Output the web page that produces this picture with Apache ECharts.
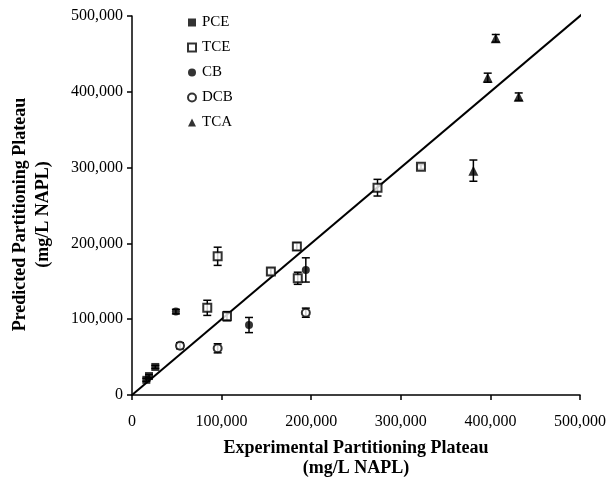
<!DOCTYPE html>
<html><head><meta charset="utf-8">
<script src="https://cdn.jsdelivr.net/npm/echarts@6/dist/echarts.min.js"></script>
<style>html,body{margin:0;padding:0;background:#fff}#c{width:612px;height:479px}</style>
</head><body><div id="c"></div>
<script>
// [experimental, predicted, errorHalfWidth]
const PCE = [[16000,20000,2000],[19000,25000,2000],[26000,37000,2000]];
const TCE = [[95600,183000,12000],[84000,115000,10000],[106000,104000,6000],[155000,163000,4000],[184000,196000,5000],[185000,154000,8000],[274000,273500,11000],[322500,301000,3000]];
const CB = [[49000,110000,3000],[130600,92300,10000],[194000,165000,16000]];
const DCB = [[53600,65000,4000],[95600,61600,6000],[194000,108600,6000]];
const TCA = [[406000,470600,5000],[397000,418600,6000],[431600,393500,5000],[381000,296000,14000]];
const LINE = [[0,0],[505000,505000]];
const TICKS = [0,100000,200000,300000,400000,500000];

const serif = '"Liberation Serif","Times New Roman",serif';
function fmt(v){return v.toString().replace(/\B(?=(\d{3})+(?!\d))/g, ',');}

const groups = [
  {name:'PCE', data:PCE, symbol:'rect', size:8},
  {name:'TCE', data:TCE, symbol:'emptyRect', size:8},
  {name:'CB', data:CB, symbol:'circle', size:8},
  {name:'DCB', data:DCB, symbol:'emptyCircle', size:8},
  {name:'TCA', data:TCA, symbol:'triangle', size:10}
];

const series = [];
series.push({type:'line', data:LINE, showSymbol:false, symbol:'none', clip:false,
  lineStyle:{color:'#000', width:2}, silent:true, z:1});
groups.forEach(g=>{
  series.push({
    type:'custom', z:2, silent:true,
    data: g.data.map(d=>[d[0], d[1]-d[2], d[1]+d[2]]),
    renderItem:function(params, api){
      const lo = api.coord([api.value(0), api.value(1)]);
      const hi = api.coord([api.value(0), api.value(2)]);
      const w = 4;
      const st = {stroke:'#000', lineWidth:1.5};
      return {type:'group', children:[
        {type:'line', shape:{x1:lo[0],y1:lo[1],x2:hi[0],y2:hi[1]}, style:st},
        {type:'line', shape:{x1:lo[0]-w,y1:lo[1],x2:lo[0]+w,y2:lo[1]}, style:st},
        {type:'line', shape:{x1:hi[0]-w,y1:hi[1],x2:hi[0]+w,y2:hi[1]}, style:st}
      ]};
    }
  });
  const hollow = g.symbol.indexOf('empty')===0;
  series.push({
    type:'scatter', name:g.name, z:3,
    data:g.data.map(d=>[d[0],d[1]]),
    symbol:g.symbol, symbolSize:g.size,
    itemStyle:{color:'#000', borderColor:'#000', borderWidth: hollow ? 1.2 : 0}
  });
});

const chart = echarts.init(document.getElementById('c'), null, {renderer:'canvas'});
chart.setOption({
  animation:false,
  backgroundColor:'#fff',
  textStyle:{fontFamily:serif, color:'#000'},
  grid:{left:132, right:32, top:16, bottom:84, containLabel:false, outerBoundsMode:'none'},
  legend:{
    orient:'vertical', left:182, top:10,
    data:groups.map(g=>g.name),
    itemWidth:8, itemHeight:8, itemGap:10,
    textStyle:{fontFamily:serif, fontSize:15, color:'#000', lineHeight:15, padding:[0,0,0,1]}
  },
  xAxis:{
    type:'value', min:TICKS[0], max:TICKS[TICKS.length-1], interval:100000,
    name:'Experimental Partitioning Plateau\n(mg/L NAPL)', nameLocation:'middle', nameGap:43,
    nameTextStyle:{fontFamily:serif, fontSize:18, fontWeight:'bold', color:'#000', lineHeight:20, verticalAlign:'top'},
    axisLine:{lineStyle:{color:'#000', width:1.5}},
    axisTick:{show:true, inside:false, length:5, lineStyle:{color:'#000', width:1.5}},
    axisLabel:{fontFamily:serif, fontSize:16, color:'#000', margin:19, formatter:fmt},
    splitLine:{show:false}
  },
  yAxis:{
    type:'value', min:TICKS[0], max:TICKS[TICKS.length-1], interval:100000,
    name:'Predicted Partitioning Plateau\n(mg/L NAPL)', nameLocation:'middle', nameGap:77,
    nameTextStyle:{fontFamily:serif, fontSize:18, fontWeight:'bold', color:'#000', lineHeight:23, padding:[0,18,0,0]},
    axisLine:{lineStyle:{color:'#000', width:1.5}},
    axisTick:{show:true, inside:false, length:5, lineStyle:{color:'#000', width:1.5}},
    axisLabel:{fontFamily:serif, fontSize:16, color:'#000', margin:9, formatter:fmt},
    splitLine:{show:false}
  },
  series:series
});
</script></body></html>
